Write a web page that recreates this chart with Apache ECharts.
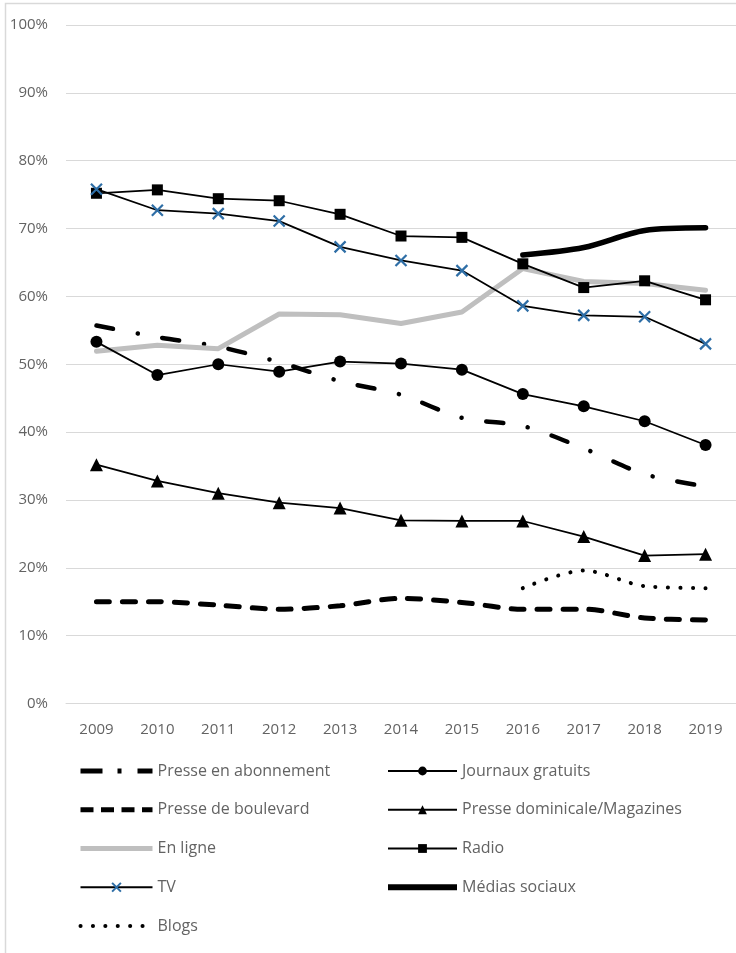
<!DOCTYPE html>
<html>
<head>
<meta charset="utf-8">
<script src="https://cdn.jsdelivr.net/npm/echarts@6/dist/echarts.min.js"></script>
<style>
html,body{margin:0;padding:0;background:#fff;}
#chart{width:736px;height:953px;}
</style>
</head>
<body>
<div id="chart"></div>
<script>
const years = ['2009','2010','2011','2012','2013','2014','2015','2016','2017','2018','2019'];
const yTicks = [0,10,20,30,40,50,60,70,80,90,100];
const presseAbonnement = [55.7, 54.0, 52.6, 50.3, 47.5, 45.5, 42.1, 40.9, 37.6, 33.8, 32.0];
const journauxGratuits = [53.3, 48.4, 50.0, 48.9, 50.4, 50.1, 49.2, 45.6, 43.8, 41.6, 38.1];
const presseBoulevard = [15.0, 15.0, 14.5, 13.9, 14.4, 15.5, 14.9, 13.9, 13.9, 12.6, 12.3];
const presseDominicale = [35.2, 32.8, 31.0, 29.6, 28.8, 27.0, 26.9, 26.9, 24.6, 21.8, 22.0];
const enLigne = [51.9, 52.8, 52.3, 57.4, 57.3, 56.0, 57.7, 64.1, 62.2, 61.9, 60.9];
const radio = [75.2, 75.7, 74.4, 74.1, 72.1, 68.9, 68.7, 64.8, 61.3, 62.3, 59.5];
const tv = [75.8, 72.7, 72.2, 71.1, 67.3, 65.3, 63.8, 58.6, 57.2, 57.0, 53.0];
const mediasSociaux = [null, null, null, null, null, null, null, 66.1, 67.2, 69.7, 70.1];
const blogs = [null, null, null, null, null, null, null, 17.0, 19.6, 17.3, 17.0];

const names = {
  pa: 'Presse en abonnement', jg: 'Journaux gratuits', pb: 'Presse de boulevard',
  pd: 'Presse dominicale/Magazines', el: 'En ligne', ra: 'Radio', tv: 'TV',
  ms: 'Médias sociaux', bl: 'Blogs'
};

const chart = echarts.init(document.getElementById('chart'), null, {renderer: 'canvas'});
const FONT = '"Open Sans", "Noto Sans", sans-serif';
const TXT = '#636363';
const BLUE = '#2E6EA6';

const legendCommon = {
  orient: 'vertical',
  itemWidth: 72,
  itemHeight: 11,
  itemGap: 18.75,
  selectedMode: false,
  textStyle: {fontFamily: FONT, fontSize: 16, color: TXT, lineHeight: 20, padding: [0,0,0,0]},
  padding: 0
};

const option = {
  animation: false,
  backgroundColor: '#fff',
  graphic: [{
    type: 'rect', silent: true, z: -10,
    shape: {x: 5.5, y: 3.5, width: 800, height: 1000},
    style: {fill: 'none', stroke: '#d9d9d9', lineWidth: 1.5}
  }],
  grid: {left: 66, top: 25, width: 673, height: 678.5, containLabel: false},
  legend: [
    Object.assign({}, legendCommon, {
      left: 78, top: 761,
      data: [
        {name: names.pa, itemStyle: {opacity: 0}, lineStyle: {type: [22, 15, 4, 16], cap: 'butt', width: 5}},
        {name: names.pb, itemStyle: {opacity: 0}, lineStyle: {type: [13, 7.5], cap: 'butt', width: 5}},
        {name: names.el, itemStyle: {opacity: 0}, lineStyle: {color: '#BFBFBF', width: 5, cap: 'butt'}},
        {name: names.tv, lineStyle: {width: 2}},
        {name: names.bl, itemStyle: {opacity: 0}, lineStyle: {type: [0.1, 12.3], cap: 'round', width: 4}}
      ]
    }),
    Object.assign({}, legendCommon, {
      left: 385, top: 761, itemWidth: 69,
      data: [
        {name: names.jg, lineStyle: {width: 2}},
        {name: names.pd, lineStyle: {width: 2}},
        {name: names.ra, lineStyle: {width: 2}},
        {name: names.ms, itemStyle: {opacity: 0}, lineStyle: {color: '#000', width: 6, cap: 'butt'}}
      ]
    })
  ],
  xAxis: {
    type: 'category',
    data: years,
    boundaryGap: true,
    axisLine: {show: true, lineStyle: {color: '#d9d9d9', width: 1}},
    axisTick: {show: false},
    axisLabel: {fontFamily: FONT, fontSize: 15, color: TXT, margin: 19}
  },
  yAxis: {
    type: 'value',
    min: yTicks[0], max: yTicks[yTicks.length - 1], interval: 10,
    axisLine: {show: false},
    axisTick: {show: false},
    splitLine: {lineStyle: {color: '#d9d9d9', width: 1}},
    axisLabel: {fontFamily: FONT, fontSize: 15, color: TXT, margin: 18, formatter: '{value}%'}
  },
  series: [
    {
      name: names.pa, type: 'line', data: presseAbonnement, smooth: 0.3,
      symbol: 'none', z: 2,
      lineStyle: {color: '#000', width: 4.5, type: [17, 25, 0.1, 25], cap: 'round'},
      itemStyle: {color: '#000'}
    },
    {
      name: names.jg, type: 'line', data: journauxGratuits,
      symbol: 'circle', symbolSize: 12, z: 3,
      lineStyle: {color: '#000', width: 1.75},
      itemStyle: {color: '#000'}
    },
    {
      name: names.pb, type: 'line', data: presseBoulevard, smooth: 0.3,
      symbol: 'none', z: 2,
      lineStyle: {color: '#000', width: 5, type: [13, 13], cap: 'round'},
      itemStyle: {color: '#000'}
    },
    {
      name: names.pd, type: 'line', data: presseDominicale,
      symbol: 'triangle', symbolSize: 13, z: 3,
      lineStyle: {color: '#000', width: 1.75},
      itemStyle: {color: '#000'}
    },
    {
      name: names.el, type: 'line', data: enLigne,
      symbol: 'none', z: 2,
      lineStyle: {color: '#BFBFBF', width: 5, cap: 'round', join: 'round'},
      itemStyle: {color: '#BFBFBF'}
    },
    {
      name: names.ra, type: 'line', data: radio,
      symbol: 'rect', symbolSize: 11, z: 3,
      lineStyle: {color: '#000', width: 1.75},
      itemStyle: {color: '#000'}
    },
    {
      name: names.tv, type: 'line', data: tv,
      symbol: 'path://M0,0L10,10M10,0L0,10', symbolSize: 11, z: 4,
      lineStyle: {color: '#000', width: 1.75},
      itemStyle: {color: BLUE, borderColor: BLUE, borderWidth: 2.2}
    },
    {
      name: names.ms, type: 'line', data: mediasSociaux, smooth: 0.3,
      symbol: 'none', z: 5,
      lineStyle: {color: '#000', width: 5.5, cap: 'round', join: 'round'},
      itemStyle: {color: '#000'}
    },
    {
      name: names.bl, type: 'line', data: blogs, smooth: 0.3,
      symbol: 'none', z: 2,
      lineStyle: {color: '#000', width: 4, type: [0.1, 12.4], cap: 'round'},
      itemStyle: {color: '#000'}
    }
  ]
};
chart.setOption(option);
</script>
</body>
</html>
